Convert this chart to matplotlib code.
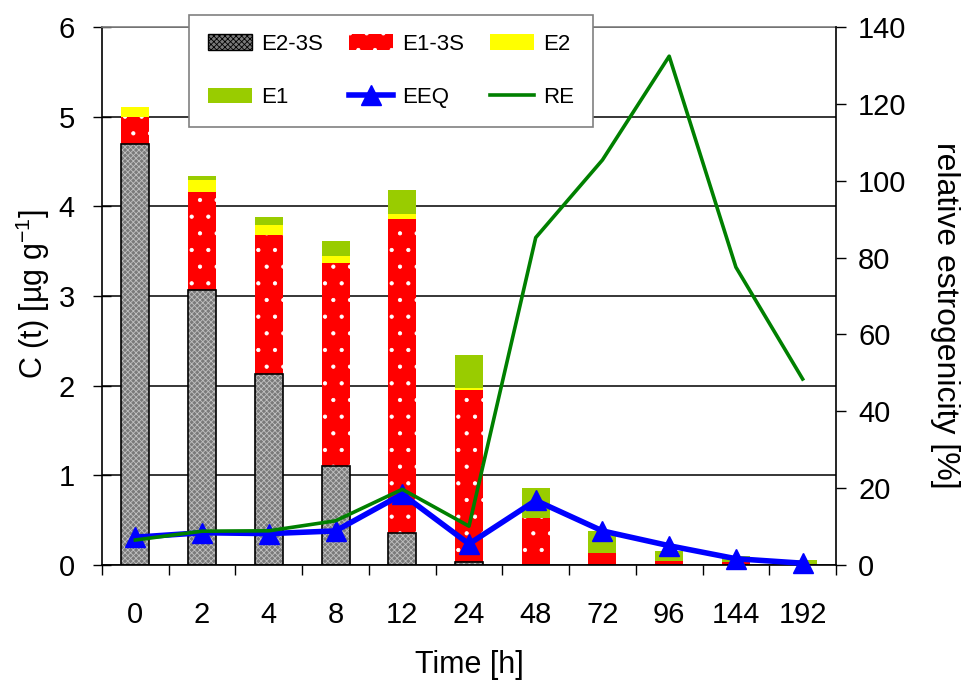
import matplotlib
matplotlib.use("Agg")
import matplotlib.pyplot as plt
from matplotlib.patches import Patch
from matplotlib.lines import Line2D
import numpy as np

# Sampling times (h)
times = ['0', '2', '4', '8', '12', '24', '48', '72', '96', '144', '192']

# Concentrations C(t) in µg/g, stacked per sampling time
e2_3s = [4.69, 3.07, 2.13, 1.10, 0.36, 0.03, 0.0, 0.0, 0.0, 0.0, 0.0]
e1_3s = [0.31, 1.09, 1.55, 2.27, 3.50, 1.92, 0.52, 0.13, 0.045, 0.035, 0.01]
e2 = [0.11, 0.13, 0.11, 0.08, 0.05, 0.02, 0.0, 0.0, 0.0, 0.0, 0.0]
e1 = [0.0, 0.05, 0.09, 0.16, 0.27, 0.37, 0.34, 0.25, 0.115, 0.07, 0.05]

# Estradiol equivalents (µg/g) and relative estrogenicity (%)
eeq = [0.31, 0.36, 0.35, 0.38, 0.79, 0.235, 0.72, 0.38, 0.215, 0.07, 0.02]
re = [6.5, 8.8, 8.9, 11.5, 19.7, 10.1, 85.2, 105.4, 132.4, 77.5, 48.4]

plt.rcParams['font.family'] = ['Liberation Sans', 'DejaVu Sans']
plt.rcParams['mathtext.default'] = 'regular'
plt.rcParams['hatch.linewidth'] = 0.6

fig = plt.figure(figsize=(9.67, 6.84), dpi=100)
ax = fig.add_axes([102 / 967, 1 - 565 / 684, 734 / 967, 538 / 684])

x = np.arange(len(times))
w = 0.42
s1 = np.array(e2_3s)
s2 = s1 + np.array(e1_3s)
s3 = s2 + np.array(e2)

# E2-3S: fine grey texture with black outline
ax.bar(x, e2_3s, w, color='#7a7a7a', hatch='xxxxxx', edgecolor='#c0c0c0',
       linewidth=0, zorder=2)
ax.bar(x, e2_3s, w, fill=False, edgecolor='black', linewidth=1.2, zorder=2.1)
# E1-3S: red with white dots
ax.bar(x, e1_3s, w, bottom=s1, color='#ff0000', hatch='.', edgecolor='white',
       linewidth=0, zorder=2)
ax.bar(x, e2, w, bottom=s2, color='#ffff00', linewidth=0, zorder=2)
ax.bar(x, e1, w, bottom=s3, color='#99cc00', linewidth=0, zorder=2)

ax.plot(x, eeq, color='#0000ff', lw=4, marker='^', markersize=14, zorder=4,
        clip_on=False)

ax.set_xlim(-0.5, len(times) - 0.5)
ax.set_ylim(0, 6)
ax.set_yticks(range(0, 7))
ax.set_axisbelow(True)
ax.yaxis.grid(True, color='black', lw=1.1)

# category ticks between the bars, labels at the bar centres
ax.set_xticks(np.arange(-0.5, len(times)), minor=False)
ax.set_xticklabels([])
ax.set_xticks(x, minor=True)
ax.set_xticklabels(times, minor=True, fontsize=21)
ax.tick_params(axis='x', which='major', direction='out', length=7, width=1)
ax.tick_params(axis='x', which='minor', length=0, pad=26)
ax.tick_params(axis='y', direction='inout', length=13, width=1, labelsize=21,
               pad=13)

for sp in ('left', 'bottom'):
    ax.spines[sp].set_color('black')
    ax.spines[sp].set_linewidth(1.2)
ax.spines['top'].set_color('#808080')
ax.spines['top'].set_linewidth(1.2)
ax.spines['right'].set_visible(False)

ax.set_ylabel('C (t) [µg g$^{-1}$]', fontsize=22, va='center')
ax.yaxis.set_label_coords(-0.094, 0.504)
ax.set_xlabel('Time [h]', fontsize=22, va='center')
ax.xaxis.set_label_coords(0.501, -0.186)

ax2 = ax.twinx()
ax2.plot(x, re, color='#008000', lw=2.6, zorder=5)
ax2.set_ylim(0, 140)
ax2.set_yticks(range(0, 141, 20))
ax2.tick_params(axis='y', direction='out', length=7, width=1, labelsize=21,
                pad=9)
ax2.spines['right'].set_color('black')
ax2.spines['right'].set_linewidth(1.2)
for sp in ('left', 'top', 'bottom'):
    ax2.spines[sp].set_visible(False)
ax2.set_ylabel('relative estrogenicity [%]', fontsize=23, rotation=270,
               va='center')
ax2.yaxis.set_label_coords(1.148, 0.465)

# legend entries laid out row by row in three columns
h_e23s = Patch(facecolor='#7a7a7a', hatch='xxxxxx', edgecolor='black', lw=1)
h_e13s = Patch(facecolor='#ff0000', hatch='.', edgecolor='white', lw=0)
h_e2 = Patch(facecolor='#ffff00', lw=0)
h_e1 = Patch(facecolor='#99cc00', lw=0)
h_eeq = Line2D([], [], color='#0000ff', lw=4, marker='^', markersize=14)
h_re = Line2D([], [], color='#008000', lw=2.6)
handles = [h_e23s, h_e1, h_e13s, h_eeq, h_e2, h_re]
labels = ['E2-3S', 'E1', 'E1-3S', 'EEQ', 'E2', 'RE']
leg = fig.legend(handles, labels, ncol=3, loc='upper left',
                 bbox_to_anchor=(189 / 967, 1 - 15 / 684), fontsize=16,
                 frameon=True, fancybox=False, edgecolor='#808080',
                 framealpha=1, handlelength=2.0, handleheight=0.7,
                 labelspacing=1.45, columnspacing=1.15, handletextpad=0.4,
                 borderpad=0.85, borderaxespad=0)
leg.get_frame().set_linewidth(1.2)

fig.savefig('out.png', dpi=100)
